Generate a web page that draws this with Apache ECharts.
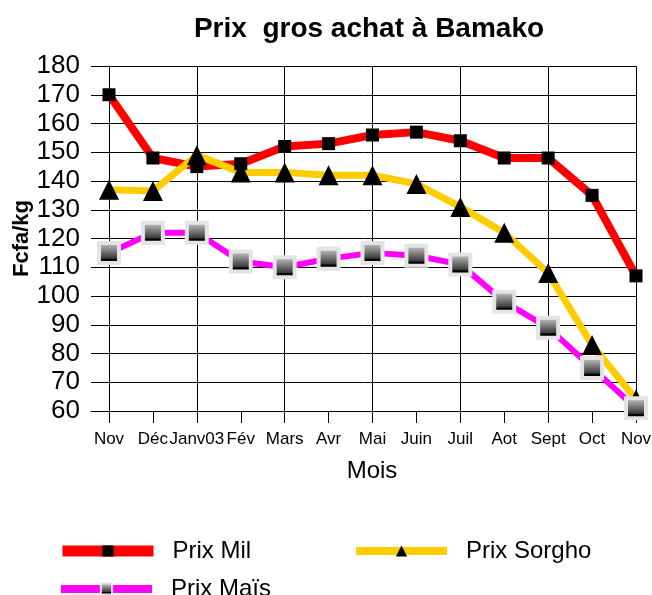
<!DOCTYPE html>
<html>
<head>
<meta charset="utf-8">
<script src="https://cdn.jsdelivr.net/npm/echarts@6/dist/echarts.min.js"></script>
<style>
html,body{margin:0;padding:0;background:#fff;}
#c{width:652px;height:595px;}
</style>
</head>
<body>
<div id="c"></div>
<script>
var months = ['Nov','Déc','Janv03','Fév','Mars','Avr','Mai','Juin','Juil','Aot','Sept','Oct','Nov'];
var milValues = [170,148,145,146,152,153,156,157,154,148,148,135,107];
var sorghoValues = [137,136.5,149,143,143,142,142,139,131,122,108,83,64];
var maisValues = [115,122,122,112,110,113,115,114,111,98,89,75,61];
var yTicks = [60,70,80,90,100,110,120,130,140,150,160,170,180];
var verticalGridAt = [0,2,4,6,8,10,12];

var FONT = '"Liberation Sans", Arial, sans-serif';
function pairs(arr){ return arr.map(function(v,i){ return [i, v]; }); }
var catIdx = months.map(function(m,i){ return i; });

var maisFill = new echarts.graphic.LinearGradient(0,0,0,1,[
  {offset:0,color:'#d8d8d8'},
  {offset:0.72,color:'#3a3a3a'},
  {offset:0.76,color:'#000'},
  {offset:1,color:'#000'}
]);

function legendFor(name, left, top, lw){
  return {data:[name],left:left,top:top,itemWidth:91,itemHeight:14,
    lineStyle:{width:lw},
    textStyle:{fontFamily:FONT,fontSize:24,color:'#000',padding:[0,0,0,14]}};
}

var chart = echarts.init(document.getElementById('c'), null, {renderer:'canvas'});
chart.setOption({
  animation:false,
  backgroundColor:'#fff',
  title:{
    text:'Prix  gros achat à Bamako',
    left:364, top:10, textAlign:'center',
    textStyle:{fontFamily:FONT,fontSize:28,fontWeight:'bold',color:'#000'}
  },
  legend:[
    legendFor('Prix Mil',52,534,11),
    legendFor('Prix Sorgho',347,534,8),
    legendFor('Prix Maïs',52,572,8)
  ],
  grid:{left:91,right:16,top:66,bottom:184,containLabel:false,outerBoundsMode:'none'},
  xAxis:{
    type:'value',min:-0.41,max:12,
    name:'Mois',nameLocation:'middle',nameGap:48,nameMoveOverlap:false,
    nameTextStyle:{fontFamily:FONT,fontSize:24,color:'#000',padding:[0,0,0,17]},
    axisLine:{show:true,lineStyle:{color:'#000',width:1}},
    axisTick:{show:true,length:12,customValues:catIdx,lineStyle:{color:'#000'}},
    axisLabel:{customValues:catIdx,margin:20,fontFamily:FONT,fontSize:17,color:'#000',
      formatter:function(v){ return months[Math.round(v)]; }},
    splitLine:{show:false}
  },
  yAxis:{
    type:'value',min:60,max:180,interval:10,
    name:'Fcfa/kg',nameLocation:'middle',nameGap:58,nameRotate:90,nameMoveOverlap:false,
    nameTextStyle:{fontFamily:FONT,fontSize:22,fontWeight:'bold',color:'#000'},
    axisLine:{show:true,lineStyle:{color:'#000',width:1}},
    axisTick:{show:false},
    axisLabel:{margin:11,fontFamily:FONT,fontSize:26,color:'#000'},
    splitLine:{show:true,lineStyle:{color:'#000',width:1}}
  },
  series:[
    {
      name:'grid',type:'line',data:[],silent:true,z:1,
      markLine:{silent:true,symbol:'none',z:1,label:{show:false},
        lineStyle:{color:'#000',width:1,type:'solid'},
        data:verticalGridAt.map(function(v){ return {xAxis:v}; })}
    },
    {
      name:'Prix Mil',type:'line',data:pairs(milValues),
      lineStyle:{color:'#ff0000',width:8},
      itemStyle:{color:'#000'},
      symbol:'rect',symbolSize:13,showAllSymbol:true
    },
    {
      name:'Prix Sorgho',type:'line',data:pairs(sorghoValues),
      lineStyle:{color:'#ffcc00',width:7},
      itemStyle:{color:'#000'},
      symbol:'triangle',symbolSize:[20,20],showAllSymbol:true
    },
    {
      name:'Prix Maïs',type:'line',data:pairs(maisValues),
      lineStyle:{color:'#ff00ff',width:6},
      itemStyle:{color:maisFill,borderColor:'#e4e4e4',borderWidth:4},
      symbol:'rect',symbolSize:20,showAllSymbol:true
    }
  ]
});
</script>
</body>
</html>
